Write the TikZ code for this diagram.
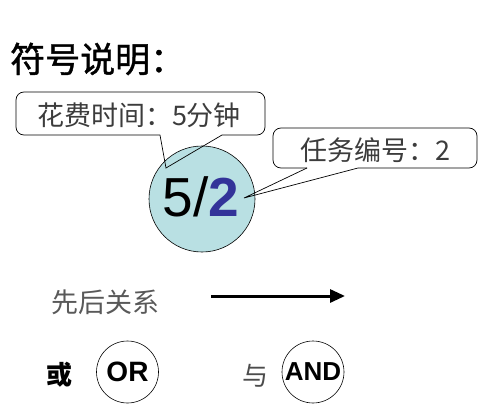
\documentclass[tikz,border=0pt]{standalone}
\usepackage{fontspec}
\setmainfont{Liberation Sans}
\newfontfamily\cjk{Noto Sans CJK SC}
\newfontfamily\cjkheavy[FakeBold=1.2]{Noto Sans CJK SC}
\usetikzlibrary{arrows.meta}
\definecolor{circfill}{RGB}{185,224,227}
\definecolor{numblue}{RGB}{51,51,153}
\definecolor{txtgray}{RGB}{60,60,60}
\tikzset{
  callout/.style={draw=black, line width=0.7pt, rounded corners=8pt},
  tail/.style={draw=black, line width=0.7pt},
  ctext/.style={inner sep=0pt, text=txtgray, font=\cjk\fontsize{27}{30}\selectfont},
  gate/.style={circle, draw=black, line width=0.6pt, minimum size=62pt, inner sep=0pt},
}
\begin{document}
\begin{tikzpicture}[x=1pt,y=-1pt]
\useasboundingbox (0,0) rectangle (483,415);

% title
\node[anchor=west, inner sep=0pt, font=\cjkheavy\fontsize{35}{38}\selectfont] (title) at (10,59) {符号说明：};

% main task circle
\node[circle, draw=black, line width=0.6pt, fill=circfill, minimum size=106pt, inner sep=0pt] (task) at (202,199) {};
\node[inner sep=0pt, font=\fontsize{55}{60}\selectfont] (tasklabel) at (201,197) {5/\textcolor{numblue}{\bfseries 2}};

% callout 1
\coordinate (c1l) at (160,135);
\coordinate (c1r) at (222,135);
\coordinate (c1tip) at (166,168);
\draw[callout] (c1r) -- (265,135) -- (265,92) -- (16,92) -- (16,135) -- (c1l);
\draw[tail] (c1l) -- (c1tip) -- (c1r);
\node[ctext] (time) at (139,115) {花费时间：5分钟};

% callout 2
\coordinate (c2l) at (307,168);
\coordinate (c2r) at (358,168);
\coordinate (c2tip) at (244,198);
\draw[callout] (c2r) -- (477,168) -- (477,128) -- (273,128) -- (273,168) -- (c2l);
\draw[tail] (c2l) -- (c2tip) -- (c2r);
\node[ctext] (taskno) at (375,150) {任务编号：2};

% precedence
\node[ctext, text=black!65] (prec) at (106,302) {先后关系};
\coordinate (arrS) at (211,296);
\coordinate (arrE) at (345,296);
\draw[line width=3pt, -{Triangle[length=15pt,width=13pt]}] (arrS) -- (arrE);

% OR / AND
\node[inner sep=0pt, font=\cjk\bfseries\fontsize{26}{28}\selectfont] (orlab) at (59,375) {或};
\node[gate, font=\bfseries\fontsize{28}{30}\selectfont] (or) at (127.5,372) {OR};
\node[inner sep=0pt, text=black!70, font=\cjk\fontsize{26}{28}\selectfont] (andlab) at (255,376) {与};
\node[gate, font=\bfseries\fontsize{26}{28}\selectfont] (and) at (313,372) {AND};
\end{tikzpicture}
\end{document}
